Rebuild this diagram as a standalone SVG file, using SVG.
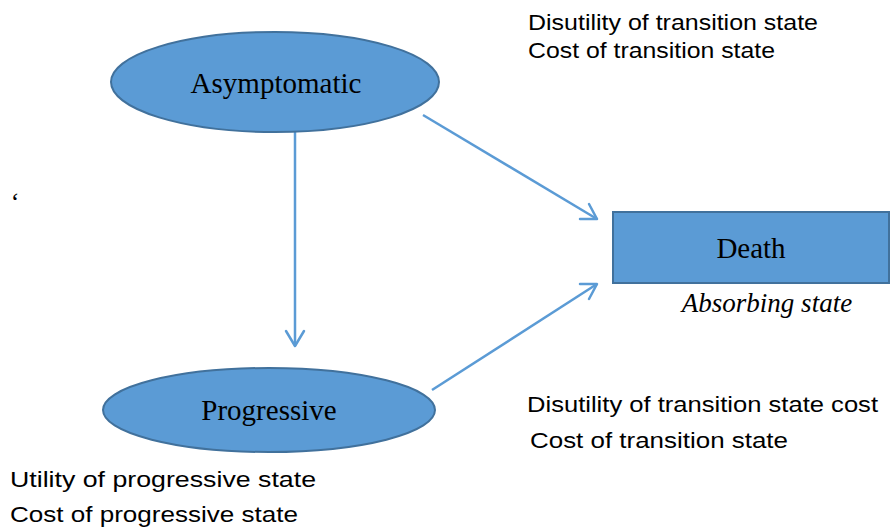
<svg xmlns="http://www.w3.org/2000/svg" width="891" height="528" viewBox="0 0 891 528">
<style>
.node{fill:#5b9bd5;stroke:#41719c;stroke-width:2}
.lbl{font-family:"Liberation Serif","Times New Roman",serif;font-size:29px;fill:#000;text-anchor:middle}
.note{font-family:"Liberation Sans",Arial,sans-serif;font-size:22px;fill:#000}
.edge{stroke:#5b9bd5;stroke-width:2.5;fill:none}
.head{stroke:#5b9bd5;stroke-width:2.5;fill:none;stroke-linecap:round;stroke-linejoin:round}
</style>
<rect width="891" height="528" fill="#fff"/>
<g id="connectors">
<line class="edge" x1="295" y1="131" x2="295" y2="346"/>
<polyline class="head" points="286,331 295,346 304,331"/>
<line class="edge" x1="423" y1="115" x2="597" y2="219"/>
<polyline class="head" points="580,219 597,219 589,204"/>
<line class="edge" x1="432" y1="390" x2="597" y2="284"/>
<polyline class="head" points="589,299 597,284 580,284"/>
</g>
<g id="asymptomatic">
<ellipse class="node" cx="275" cy="82" rx="164" ry="50"/>
<text class="lbl" x="276" y="93">Asymptomatic</text>
</g>
<g id="progressive">
<ellipse class="node" cx="269" cy="410" rx="166" ry="42"/>
<text class="lbl" x="269" y="420">Progressive</text>
</g>
<g id="death">
<rect class="node" x="613" y="212" width="276" height="71"/>
<text class="lbl" x="751" y="258">Death</text>
<text class="lbl" x="767" y="312" style="font-style:italic;font-size:27px">Absorbing state</text>
</g>
<g id="notes">
<text class="note" x="528" y="30" textLength="290" lengthAdjust="spacingAndGlyphs">Disutility of transition state</text>
<text class="note" x="528" y="58" textLength="247" lengthAdjust="spacingAndGlyphs">Cost of transition state</text>
<text class="note" x="527" y="412" textLength="351" lengthAdjust="spacingAndGlyphs">Disutility of transition state cost</text>
<text class="note" x="530" y="448" textLength="258" lengthAdjust="spacingAndGlyphs">Cost of transition state</text>
<text class="note" x="10" y="487" textLength="306" lengthAdjust="spacingAndGlyphs">Utility of progressive state</text>
<text class="note" x="10" y="522" textLength="288" lengthAdjust="spacingAndGlyphs">Cost of progressive state</text>
<text class="lbl" x="15" y="210" style="font-size:26px">‘</text>
</g>
</svg>
